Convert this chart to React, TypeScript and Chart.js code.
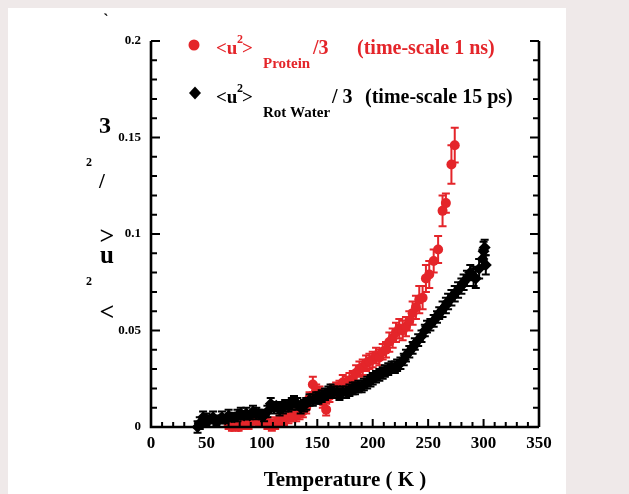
import { useEffect, useRef } from "react";
import { Chart, registerables } from "chart.js";
Chart.register(...registerables);

const SERIF = '"Liberation Serif", "Times New Roman", serif';
const RED = "#e4252a";

const xTickValues = [0, 50, 100, 150, 200, 250, 300, 350];
const yTickValues = [0, 0.05, 0.1, 0.15, 0.2];
const yTickLabels = ["0", "0.05", "0.1", "0.15", "0.2"];

const waterT = [42, 44, 47, 50, 53, 56, 59, 62, 64, 67, 70, 73, 75, 78, 81, 84, 86, 89, 92, 95, 97, 100, 102, 105, 108, 111, 113, 116, 119, 121, 124, 127, 129, 132, 135, 138, 140, 143, 146, 149, 151, 154, 157, 160, 162, 165, 168, 170, 173, 176, 179, 182, 184, 187, 190, 192, 195, 198, 200, 203, 206, 209, 211, 214, 217, 220, 222, 225, 228, 230, 233, 236, 238, 241, 244, 247, 249, 252, 255, 258, 260, 263, 266, 268, 271, 274, 277, 280, 282, 285, 288, 291, 293, 296, 299, 300, 301, 302];
const waterU = [0.000, 0.002, 0.005, 0.004, 0.004, 0.005, 0.003, 0.004, 0.005, 0.004, 0.006, 0.005, 0.005, 0.006, 0.007, 0.006, 0.007, 0.006, 0.008, 0.007, 0.007, 0.006, 0.006, 0.008, 0.012, 0.010, 0.011, 0.009, 0.010, 0.011, 0.011, 0.012, 0.013, 0.012, 0.010, 0.011, 0.012, 0.014, 0.014, 0.015, 0.015, 0.016, 0.017, 0.018, 0.019, 0.018, 0.018, 0.017, 0.018, 0.018, 0.019, 0.020, 0.020, 0.021, 0.021, 0.022, 0.023, 0.024, 0.025, 0.026, 0.027, 0.028, 0.029, 0.030, 0.031, 0.031, 0.032, 0.033, 0.035, 0.037, 0.039, 0.041, 0.043, 0.045, 0.047, 0.050, 0.052, 0.053, 0.055, 0.057, 0.059, 0.061, 0.063, 0.065, 0.067, 0.069, 0.071, 0.073, 0.075, 0.077, 0.080, 0.078, 0.077, 0.082, 0.087, 0.091, 0.093, 0.084];
const waterErr = [0.003, 0.003, 0.003, 0.003, 0.002, 0.003, 0.002, 0.002, 0.003, 0.002, 0.003, 0.002, 0.002, 0.003, 0.003, 0.002, 0.003, 0.002, 0.003, 0.003, 0.002, 0.002, 0.003, 0.003, 0.003, 0.003, 0.002, 0.003, 0.003, 0.003, 0.003, 0.003, 0.003, 0.003, 0.003, 0.003, 0.003, 0.003, 0.003, 0.003, 0.003, 0.003, 0.003, 0.003, 0.003, 0.003, 0.003, 0.003, 0.003, 0.003, 0.003, 0.003, 0.003, 0.003, 0.003, 0.003, 0.003, 0.003, 0.003, 0.003, 0.003, 0.003, 0.003, 0.003, 0.003, 0.003, 0.003, 0.003, 0.003, 0.003, 0.003, 0.003, 0.003, 0.003, 0.003, 0.003, 0.003, 0.003, 0.003, 0.003, 0.003, 0.004, 0.004, 0.004, 0.004, 0.004, 0.004, 0.004, 0.004, 0.004, 0.004, 0.005, 0.005, 0.005, 0.005, 0.005, 0.004, 0.005];

const proteinT = [70, 73, 76, 79, 82, 85, 88, 91, 95, 98, 102, 105, 109, 112, 116, 120, 124, 128, 131, 134, 137, 140, 143, 146, 149, 152, 155, 158, 161, 164, 167, 170, 173, 176, 179, 182, 185, 188, 191, 194, 197, 200, 203, 206, 209, 212, 215, 218, 221, 224, 227, 230, 233, 236, 239, 242, 245, 248, 251, 255, 259, 263, 266, 271, 274];
const proteinU = [0.001, 0.000, 0.001, 0.000, 0.001, 0.002, 0.002, 0.003, 0.003, 0.004, 0.004, 0.002, 0.001, 0.002, 0.003, 0.004, 0.005, 0.006, 0.006, 0.007, 0.008, 0.010, 0.015, 0.022, 0.019, 0.018, 0.013, 0.009, 0.016, 0.019, 0.020, 0.021, 0.023, 0.022, 0.024, 0.025, 0.028, 0.030, 0.031, 0.033, 0.034, 0.035, 0.037, 0.036, 0.039, 0.040, 0.044, 0.046, 0.049, 0.051, 0.050, 0.052, 0.055, 0.059, 0.062, 0.066, 0.067, 0.077, 0.079, 0.086, 0.092, 0.112, 0.116, 0.136, 0.146];
const proteinErr = [0.002, 0.002, 0.002, 0.002, 0.002, 0.002, 0.003, 0.003, 0.003, 0.003, 0.003, 0.003, 0.003, 0.003, 0.003, 0.003, 0.003, 0.003, 0.003, 0.003, 0.003, 0.003, 0.003, 0.004, 0.003, 0.003, 0.003, 0.003, 0.003, 0.003, 0.003, 0.003, 0.004, 0.004, 0.004, 0.004, 0.004, 0.004, 0.004, 0.004, 0.004, 0.004, 0.004, 0.004, 0.004, 0.004, 0.005, 0.005, 0.005, 0.005, 0.005, 0.005, 0.005, 0.006, 0.006, 0.007, 0.006, 0.007, 0.007, 0.006, 0.007, 0.008, 0.005, 0.010, 0.009];

const bgPlugin = {
  id: "bg",
  beforeDraw(chart: any) {
    const { ctx, width, height } = chart;
    ctx.save();
    ctx.fillStyle = "#efe9e9";
    ctx.fillRect(0, 0, width, height);
    ctx.fillStyle = "#ffffff";
    ctx.fillRect(8, 8, 558, height - 8);
    ctx.restore();
  },
};

const errPlugin = {
  id: "errbars",
  beforeDatasetDraw(chart: any, args: any) {
    const ds: any = chart.data.datasets[args.index];
    const errs: number[] = ds.errors;
    if (!errs) return;
    const ys = chart.scales.y;
    const ctx = chart.ctx;
    ctx.save();
    ctx.strokeStyle = ds.backgroundColor;
    ctx.lineWidth = 2;
    args.meta.data.forEach((pt: any, i: number) => {
      const v = ds.data[i].y;
      const e = errs[i];
      const y1 = ys.getPixelForValue(v + e);
      const y2 = ys.getPixelForValue(v - e);
      ctx.beginPath();
      ctx.moveTo(pt.x, y1);
      ctx.lineTo(pt.x, y2);
      ctx.moveTo(pt.x - 4, y1);
      ctx.lineTo(pt.x + 4, y1);
      ctx.moveTo(pt.x - 4, y2);
      ctx.lineTo(pt.x + 4, y2);
      ctx.stroke();
    });
    ctx.restore();
  },
};

const axesPlugin = {
  id: "axesDeco",
  afterDraw(chart: any) {
    const { ctx, chartArea } = chart;
    const { left, right, top, bottom } = chartArea;
    const xs = chart.scales.x;
    const ys = chart.scales.y;
    ctx.save();
    ctx.strokeStyle = "#000";
    ctx.lineCap = "butt";
    ctx.lineWidth = 2.6;
    ctx.beginPath();
    ctx.moveTo(left, top);
    ctx.lineTo(left, bottom);
    ctx.lineTo(right, bottom);
    ctx.moveTo(right, top);
    ctx.lineTo(right, bottom);
    ctx.stroke();
    ctx.lineWidth = 2;
    ctx.beginPath();
    for (let k = 0; k <= 20; k++) {
      const v = k * 0.01;
      const py = ys.getPixelForValue(v);
      const len = k % 5 === 0 ? 9 : 6;
      ctx.moveTo(left, py);
      ctx.lineTo(left + len, py);
      ctx.moveTo(right, py);
      ctx.lineTo(right - len, py);
    }
    for (let k = 0; k <= 35; k++) {
      const px = xs.getPixelForValue(k * 10);
      const len = k % 5 === 0 ? 8 : 5;
      ctx.moveTo(px, bottom);
      ctx.lineTo(px, bottom - len);
    }
    ctx.stroke();

    // scattered y-axis title glyphs
    ctx.fillStyle = "#000";
    ctx.textAlign = "center";
    ctx.textBaseline = "middle";
    const glyph = (t: string, dx: number, dy: number, size: number) => {
      ctx.font = `bold ${size}px ${SERIF}`;
      ctx.fillText(t, left + dx, top + dy);
    };
    glyph("`", -45, -20, 16);
    glyph("3", -46, 86, 24);
    glyph("2", -62, 122, 12);
    glyph("/", -49, 142, 21);
    glyph(">", -44, 196, 26);
    glyph("u", -44, 216, 25);
    glyph("2", -62, 241, 12);
    glyph("<", -44, 272, 26);

    // legend
    ctx.textAlign = "left";
    ctx.textBaseline = "alphabetic";
    const L = left;
    ctx.fillStyle = RED;
    ctx.beginPath();
    ctx.arc(L + 43, top + 4, 5.5, 0, Math.PI * 2);
    ctx.fill();
    const b1 = top + 13;
    ctx.font = `bold 19px ${SERIF}`;
    ctx.fillText("<u", L + 65, b1);
    ctx.fillText(">", L + 91, b1);
    ctx.font = `bold 20px ${SERIF}`;
    ctx.fillText("/3", L + 162, b1);
    ctx.fillText("(time-scale 1 ns)", L + 206, b1);
    ctx.font = `bold 12px ${SERIF}`;
    ctx.fillText("2", L + 86, b1 - 11);
    ctx.font = `bold 15px ${SERIF}`;
    ctx.fillText("Protein", L + 112, b1 + 14);

    ctx.fillStyle = "#000";
    ctx.beginPath();
    const dxp = L + 44, dyp = top + 52;
    ctx.moveTo(dxp, dyp - 6.5);
    ctx.lineTo(dxp + 6, dyp);
    ctx.lineTo(dxp, dyp + 6.5);
    ctx.lineTo(dxp - 6, dyp);
    ctx.closePath();
    ctx.fill();
    const b2 = top + 62;
    ctx.font = `bold 19px ${SERIF}`;
    ctx.fillText("<u", L + 65, b2);
    ctx.fillText(">", L + 91, b2);
    ctx.font = `bold 20px ${SERIF}`;
    ctx.fillText("/ 3", L + 181, b2);
    ctx.fillText("(time-scale 15 ps)", L + 214, b2);
    ctx.font = `bold 12px ${SERIF}`;
    ctx.fillText("2", L + 86, b2 - 11);
    ctx.font = `bold 15px ${SERIF}`;
    ctx.fillText("Rot Water", L + 112, b2 + 14);
    ctx.restore();
  },
};

export default function App() {
  const ref = useRef<HTMLCanvasElement | null>(null);
  useEffect(() => {
    if (!ref.current) return;
    const chart = new Chart(ref.current, {
      type: "scatter",
      data: {
        datasets: [
          {
            label: "Rot Water",
            data: waterT.map((t, i) => ({ x: t, y: waterU[i] })),
            errors: waterErr,
            backgroundColor: "#000000",
            borderColor: "#000000",
            pointStyle: "rectRot",
            pointRadius: 6,
            borderWidth: 0,
            clip: false,
          } as any,
          {
            label: "Protein",
            data: proteinT.map((t, i) => ({ x: t, y: proteinU[i] })),
            errors: proteinErr,
            backgroundColor: RED,
            borderColor: RED,
            pointStyle: "circle",
            pointRadius: 5,
            borderWidth: 0,
            clip: false,
          } as any,
        ],
      },
      options: {
        animation: false,
        responsive: false,
        layout: { padding: { left: 0, top: 41, right: 90, bottom: 0 } },
        plugins: { legend: { display: false }, tooltip: { enabled: false } },
        scales: {
          x: {
            type: "linear",
            min: 0,
            max: 350,
            afterFit: (s: any) => { s.height = 67; },
            afterBuildTicks: (s: any) => { s.ticks = xTickValues.map((v) => ({ value: v })); },
            ticks: {
              color: "#000",
              padding: 6,
              font: { family: SERIF, size: 17, weight: "bold" },
              maxRotation: 0,
            },
            grid: { display: false, drawTicks: false },
            border: { display: false },
            title: {
              display: true,
              text: "Temperature ( K )",
              color: "#000",
              font: { family: SERIF, size: 21, weight: "bold" },
              padding: { top: 0, bottom: 1 },
            },
          },
          y: {
            type: "linear",
            min: 0,
            max: 0.2,
            afterFit: (s: any) => { s.width = 151; },
            afterBuildTicks: (s: any) => { s.ticks = yTickValues.map((v) => ({ value: v })); },
            ticks: {
              color: "#000",
              padding: 10,
              font: { family: SERIF, size: 13, weight: "bold" },
              callback: (v: any) => {
                const i = yTickValues.findIndex((t) => Math.abs(t - Number(v)) < 1e-9);
                return i >= 0 ? yTickLabels[i] : "";
              },
            },
            grid: { display: false, drawTicks: false },
            border: { display: false },
          },
        },
      } as any,
      plugins: [bgPlugin, errPlugin, axesPlugin],
    });
    return () => chart.destroy();
  }, []);
  return (
    <div style={{ position: "fixed", left: 0, top: 0, width: 629, height: 494 }}>
      <canvas ref={ref} width={629} height={494} style={{ display: "block" }} />
    </div>
  );
}
